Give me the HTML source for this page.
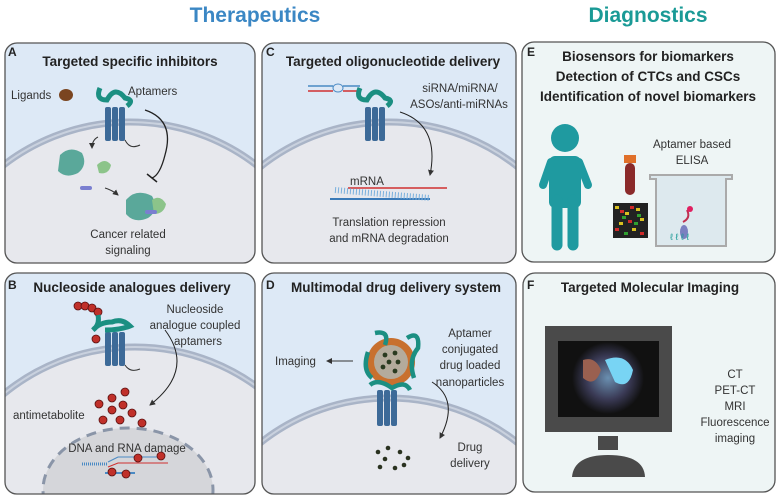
<!DOCTYPE html>
<html><head><meta charset="utf-8"><style>
html,body{margin:0;padding:0;background:#fff;width:778px;height:496px;overflow:hidden;}
svg{display:block;font-family:"Liberation Sans",sans-serif;}
.t{font-weight:bold;font-size:13.5px;fill:#222;text-anchor:middle;}
.l{font-weight:bold;font-size:12px;fill:#222;}
.s{font-size:11.5px;fill:#333;}
.c{text-anchor:middle;}
</style></head><body>
<svg width="778" height="496" viewBox="0 0 778 496">
<defs>
<clipPath id="cA"><rect x="5" y="43" width="250" height="220" rx="12"/></clipPath>
<clipPath id="cC"><rect x="262" y="43" width="254" height="220" rx="12"/></clipPath>
<clipPath id="cB"><rect x="5" y="273" width="250" height="221" rx="12"/></clipPath>
<clipPath id="cD"><rect x="262" y="273" width="254" height="221" rx="12"/></clipPath>
<marker id="ar" markerWidth="6" markerHeight="6" refX="5" refY="3" orient="auto"><path d="M0,0 L6,3 L0,6 z" fill="#333"/></marker>
<radialGradient id="scr" cx="0.5" cy="0.5" r="0.5"><stop offset="0" stop-color="#6a8fb0"/><stop offset="0.6" stop-color="#3a3a55"/><stop offset="1" stop-color="#111"/></radialGradient>
</defs>
<text x="255" y="22" text-anchor="middle" font-size="21" font-weight="bold" fill="#3b87c4">Therapeutics</text>
<text x="648" y="22" text-anchor="middle" font-size="21" font-weight="bold" fill="#1a9a96">Diagnostics</text>

<!-- Panel A -->
<rect x="5" y="43" width="250" height="220" rx="12" fill="#dde9f6"/>
<g clip-path="url(#cA)">
<circle cx="130" cy="329" r="207" fill="#e7e8ed" stroke="#a9b4c7" stroke-width="7"/>
<circle cx="130" cy="329" r="207" fill="none" stroke="#c9d1de" stroke-width="2"/>
</g>
<rect x="5" y="43" width="250" height="220" rx="12" fill="none" stroke="#555" stroke-width="1.3"/>
<text x="8" y="56" class="l">A</text>
<text x="130" y="66" class="t">Targeted specific inhibitors</text>
<text x="11" y="99" class="s">Ligands</text>
<ellipse cx="66" cy="95" rx="7" ry="6" fill="#7a4520"/>
<text x="128" y="95" class="s">Aptamers</text>
<g fill="#3d6a98"><rect x="105" y="107" width="6" height="34" rx="2"/><rect x="112" y="107" width="6" height="34" rx="2"/><rect x="119" y="107" width="6" height="34" rx="2"/></g>
<path d="M100,88 Q95,100 107,100 Q115,85 125,98 Q135,100 127,106" fill="none" stroke="#1b8f82" stroke-width="5"/>
<path d="M125,140 q5,10 15,5" fill="none" stroke="#333" stroke-width="1"/>
<path d="M145,110 Q175,120 165,155 Q160,175 152,178" fill="none" stroke="#222" stroke-width="1.3"/>
<line x1="147" y1="174" x2="157" y2="182" stroke="#222" stroke-width="1.5"/>
<path d="M98,137 Q92,140 92,148" fill="none" stroke="#333" marker-end="url(#ar)"/>
<path d="M60,155 q10,-10 22,-2 q6,12 -4,20 q-12,6 -20,-2 z" fill="#5aa89a"/>
<path d="M97,165 q8,-8 14,0 q-2,10 -12,8 z" fill="#8cc48a"/>
<rect x="80" y="186" width="12" height="4" rx="2" fill="#7a7fd0"/>
<path d="M105,188 Q112,190 118,195" fill="none" stroke="#333" marker-end="url(#ar)"/>
<path d="M126,200 q10,-12 26,-4 q8,14 -4,22 q-14,6 -22,-4 z" fill="#5aa89a"/>
<path d="M152,200 q8,-6 14,4 q-2,10 -12,10 z" fill="#8cc48a"/>
<rect x="145" y="210" width="12" height="4" rx="2" fill="#7a7fd0"/>
<text x="128" y="238" class="s c">Cancer related</text>
<text x="128" y="254" class="s c">signaling</text>

<!-- Panel C -->
<rect x="262" y="43" width="254" height="220" rx="12" fill="#dde9f6"/>
<g clip-path="url(#cC)">
<circle cx="389" cy="329" r="207" fill="#e7e8ed" stroke="#a9b4c7" stroke-width="7"/>
<circle cx="389" cy="329" r="207" fill="none" stroke="#c9d1de" stroke-width="2"/>
</g>
<rect x="262" y="43" width="254" height="220" rx="12" fill="none" stroke="#555" stroke-width="1.3"/>
<text x="266" y="56" class="l">C</text>
<text x="393" y="66" class="t">Targeted oligonucleotide delivery</text>
<line x1="308" y1="86" x2="333" y2="86" stroke="#4a8ac4" stroke-width="1.5"/>
<line x1="308" y1="91" x2="333" y2="91" stroke="#d03030" stroke-width="1.5"/>
<ellipse cx="338" cy="88" rx="5" ry="4" fill="none" stroke="#4a8ac4"/>
<line x1="343" y1="86" x2="360" y2="86" stroke="#4a8ac4" stroke-width="1.5"/>
<line x1="343" y1="91" x2="360" y2="91" stroke="#d03030" stroke-width="1.5"/>
<g fill="#3d6a98"><rect x="365" y="107" width="6" height="34" rx="2"/><rect x="372" y="107" width="6" height="34" rx="2"/><rect x="379" y="107" width="6" height="34" rx="2"/></g>
<path d="M360,88 Q355,100 367,100 Q375,85 385,98 Q395,100 387,106" fill="none" stroke="#1b8f82" stroke-width="5"/>
<text x="460" y="92" class="s c">siRNA/miRNA/</text>
<text x="459" y="108" class="s c">ASOs/anti-miRNAs</text>
<path d="M400,112 Q440,125 430,175" fill="none" stroke="#222" marker-end="url(#ar)"/>
<text x="350" y="185" class="s">mRNA</text>
<line x1="348" y1="188" x2="447" y2="188" stroke="#d03030" stroke-width="1.5"/>
<line x1="330" y1="199" x2="430" y2="199" stroke="#3a7ab8" stroke-width="2"/>
<line x1="335" y1="190" x2="430" y2="198" stroke="#7ab0dd" stroke-width="6" stroke-dasharray="1,2"/>
<text x="389" y="226" class="s c">Translation repression</text>
<text x="389" y="242" class="s c">and mRNA degradation</text>

<!-- Panel E -->
<rect x="522" y="42" width="253" height="220" rx="12" fill="#eef5f5" stroke="#555" stroke-width="1.3"/>
<text x="527" y="56" class="l">E</text>
<text x="648" y="61" class="t">Biosensors for biomarkers</text>
<text x="648" y="81" class="t">Detection of CTCs and CSCs</text>
<text x="648" y="101" class="t">Identification of novel biomarkers</text>
<g fill="#1f9aa0" stroke="#1f9aa0" stroke-linecap="round">
<circle cx="565" cy="138" r="14" stroke="none"/>
<rect x="549" y="156" width="32" height="52" rx="6" stroke="none"/>
<line x1="551" y1="162" x2="543" y2="185" stroke-width="8"/>
<line x1="579" y1="162" x2="588" y2="185" stroke-width="8"/>
<line x1="557" y1="200" x2="557" y2="245" stroke-width="11"/>
<line x1="573" y1="200" x2="573" y2="245" stroke-width="11"/>
</g>
<rect x="624" y="155" width="12" height="8" fill="#e0702a"/>
<rect x="625" y="163" width="10" height="32" rx="5" fill="#8a2a2a"/>
<rect x="613" y="203" width="35" height="35" fill="#222"/>
<g fill="#d8c020"><rect x="615" y="206" width="4" height="3"/><rect x="625" y="212" width="4" height="3"/><rect x="636" y="208" width="4" height="3"/><rect x="619" y="222" width="4" height="3"/><rect x="632" y="228" width="4" height="3"/><rect x="640" y="218" width="4" height="3"/></g>
<g fill="#d02a2a"><rect x="620" y="210" width="4" height="3"/><rect x="630" y="206" width="4" height="3"/><rect x="615" y="228" width="4" height="3"/><rect x="628" y="220" width="4" height="3"/><rect x="640" y="232" width="4" height="3"/></g>
<g fill="#30a030"><rect x="637" y="214" width="4" height="3"/><rect x="622" y="216" width="4" height="3"/><rect x="624" y="232" width="4" height="3"/><rect x="634" y="222" width="4" height="3"/></g>
<text x="692" y="148" class="s c">Aptamer based</text>
<text x="692" y="164" class="s c">ELISA</text>
<path d="M650,175 H732 V179 H726 V246 H656 V179 H650 Z" fill="#dde9ee" stroke="#aaa" stroke-width="2"/>
<ellipse cx="684" cy="232" rx="4" ry="7" fill="#7a7fc0"/>
<path d="M683,222 q8,-4 4,-12" stroke="#c03050" stroke-width="2" fill="none"/>
<circle cx="690" cy="209" r="3" fill="#e02060"/>
<text x="670" y="240" font-size="9" fill="#1a9a96">ℓ ℓ ℓ ℓ</text>

<!-- Panel B -->
<rect x="5" y="273" width="250" height="221" rx="12" fill="#dde9f6"/>
<g clip-path="url(#cB)">
<circle cx="135" cy="554" r="207" fill="#e7e8ed" stroke="#a9b4c7" stroke-width="7"/>
<circle cx="135" cy="554" r="207" fill="none" stroke="#c9d1de" stroke-width="2"/>
<ellipse cx="128" cy="490" rx="85" ry="62" fill="#d5d6da" stroke="#8a95a8" stroke-width="3" stroke-dasharray="10,7"/>
</g>
<rect x="5" y="273" width="250" height="221" rx="12" fill="none" stroke="#555" stroke-width="1.3"/>
<text x="8" y="289" class="l">B</text>
<text x="132" y="292" class="t">Nucleoside analogues delivery</text>
<g fill="#c0302a" stroke="#5a1010" stroke-width="0.8">
<circle cx="78" cy="306" r="4"/><circle cx="85" cy="306" r="4"/><circle cx="92" cy="308" r="4"/><circle cx="98" cy="312" r="4"/><circle cx="96" cy="339" r="4"/>
</g>
<g fill="#3d6a98"><rect x="105" y="332" width="6" height="34" rx="2"/><rect x="112" y="332" width="6" height="34" rx="2"/><rect x="119" y="332" width="6" height="34" rx="2"/></g>
<path d="M98,315 Q100,325 93,330 Q100,322 112,322 Q122,318 130,326 Q120,330 105,330" fill="none" stroke="#1b8f82" stroke-width="5"/>
<path d="M125,365 q5,8 15,4" fill="none" stroke="#333"/>
<text x="195" y="313" class="s c">Nucleoside</text>
<text x="195" y="329" class="s c">analogue coupled</text>
<text x="198" y="345" class="s c">aptamers</text>
<path d="M165,330 Q195,370 150,405" fill="none" stroke="#222" marker-end="url(#ar)"/>
<text x="13" y="419" class="s">antimetabolite</text>
<g fill="#c0302a" stroke="#5a1010" stroke-width="0.8">
<circle cx="125" cy="392" r="4"/><circle cx="112" cy="398" r="4"/><circle cx="99" cy="404" r="4"/><circle cx="123" cy="405" r="4"/><circle cx="112" cy="410" r="4"/><circle cx="132" cy="413" r="4"/><circle cx="103" cy="420" r="4"/><circle cx="120" cy="420" r="4"/><circle cx="142" cy="423" r="4"/>
</g>
<text x="127" y="452" class="s c">DNA and RNA damage</text>
<line x1="82" y1="464" x2="108" y2="464" stroke="#4a8ac4" stroke-width="3" stroke-dasharray="1,1"/>
<path d="M108,462 L118,457 H165" stroke="#4a8ac4" fill="none"/>
<path d="M108,467 L118,463 H168" stroke="#d03030" fill="none"/>
<line x1="105" y1="473" x2="135" y2="473" stroke="#4a8ac4" stroke-width="2"/>
<g fill="#c0302a" stroke="#5a1010" stroke-width="0.8"><circle cx="138" cy="458" r="4"/><circle cx="161" cy="456" r="4"/><circle cx="112" cy="472" r="4"/><circle cx="126" cy="474" r="4"/></g>

<!-- Panel D -->
<rect x="262" y="273" width="254" height="221" rx="12" fill="#dde9f6"/>
<g clip-path="url(#cD)">
<circle cx="389" cy="605" r="207" fill="#e7e8ed" stroke="#a9b4c7" stroke-width="7"/>
<circle cx="389" cy="605" r="207" fill="none" stroke="#c9d1de" stroke-width="2"/>
</g>
<rect x="262" y="273" width="254" height="221" rx="12" fill="none" stroke="#555" stroke-width="1.3"/>
<text x="266" y="289" class="l">D</text>
<text x="396" y="292" class="t">Multimodal drug delivery system</text>
<text x="275" y="365" class="s">Imaging</text>
<line x1="353" y1="361" x2="327" y2="361" stroke="#333" marker-end="url(#ar)"/>
<g fill="#3d6a98"><rect x="377" y="390" width="6" height="36" rx="2"/><rect x="384" y="390" width="6" height="36" rx="2"/><rect x="391" y="390" width="6" height="36" rx="2"/></g>
<circle cx="391" cy="362" r="24" fill="#c8702e"/>
<circle cx="391" cy="362" r="17" fill="#b4ab9c"/>
<g fill="#2a3a20"><circle cx="385" cy="355" r="2.4"/><circle cx="395" cy="353" r="2.4"/><circle cx="389" cy="362" r="2.4"/><circle cx="398" cy="362" r="2.4"/><circle cx="383" cy="367" r="2.4"/><circle cx="395" cy="371" r="2.4"/></g>
<path d="M375,333 Q390,330 385,345 M407,338 Q420,330 418,348 Q408,360 414,378 M368,352 Q362,370 372,378 M370,385 Q378,378 392,388 Q405,380 410,390" fill="none" stroke="#1b8f82" stroke-width="4.5"/>
<text x="470" y="337" class="s c">Aptamer</text>
<text x="470" y="353" class="s c">conjugated</text>
<text x="470" y="369" class="s c">drug loaded</text>
<text x="470" y="386" class="s c">nanoparticles</text>
<path d="M432,382 Q460,400 440,438" fill="none" stroke="#222" marker-end="url(#ar)"/>
<text x="470" y="451" class="s c">Drug</text>
<text x="470" y="467" class="s c">delivery</text>
<g fill="#2a3220"><circle cx="378" cy="452" r="2.3"/><circle cx="388" cy="448" r="2.3"/><circle cx="400" cy="452" r="2.3"/><circle cx="385" cy="459" r="2.3"/><circle cx="408" cy="458" r="2.3"/><circle cx="380" cy="467" r="2.3"/><circle cx="395" cy="468" r="2.3"/><circle cx="404" cy="465" r="2.3"/></g>

<!-- Panel F -->
<rect x="523" y="273" width="252" height="219" rx="12" fill="#eef5f5" stroke="#555" stroke-width="1.3"/>
<text x="527" y="289" class="l">F</text>
<text x="650" y="292" class="t">Targeted Molecular Imaging</text>
<rect x="545" y="326" width="127" height="106" fill="#4a4a4a"/>
<rect x="558" y="341" width="101" height="76" fill="#111"/>
<circle cx="608" cy="378" r="36" fill="url(#scr)"/>
<path d="M605,360 q20,-8 28,10 q-4,20 -18,12 z" fill="#78d4f4"/>
<path d="M583,360 q12,-4 18,10 q-6,18 -18,8 z" fill="#9a6050"/>
<rect x="598" y="436" width="20" height="14" fill="#4a4a4a"/>
<path d="M572,477 Q574,455 608,455 Q644,455 645,477 Z" fill="#4a4a4a"/>
<g class="s" style="text-anchor:middle">
<text x="735" y="378">CT</text>
<text x="735" y="394">PET-CT</text>
<text x="735" y="410">MRI</text>
<text x="735" y="426">Fluorescence</text>
<text x="735" y="442">imaging</text>
</g>
</svg>
</body></html>
